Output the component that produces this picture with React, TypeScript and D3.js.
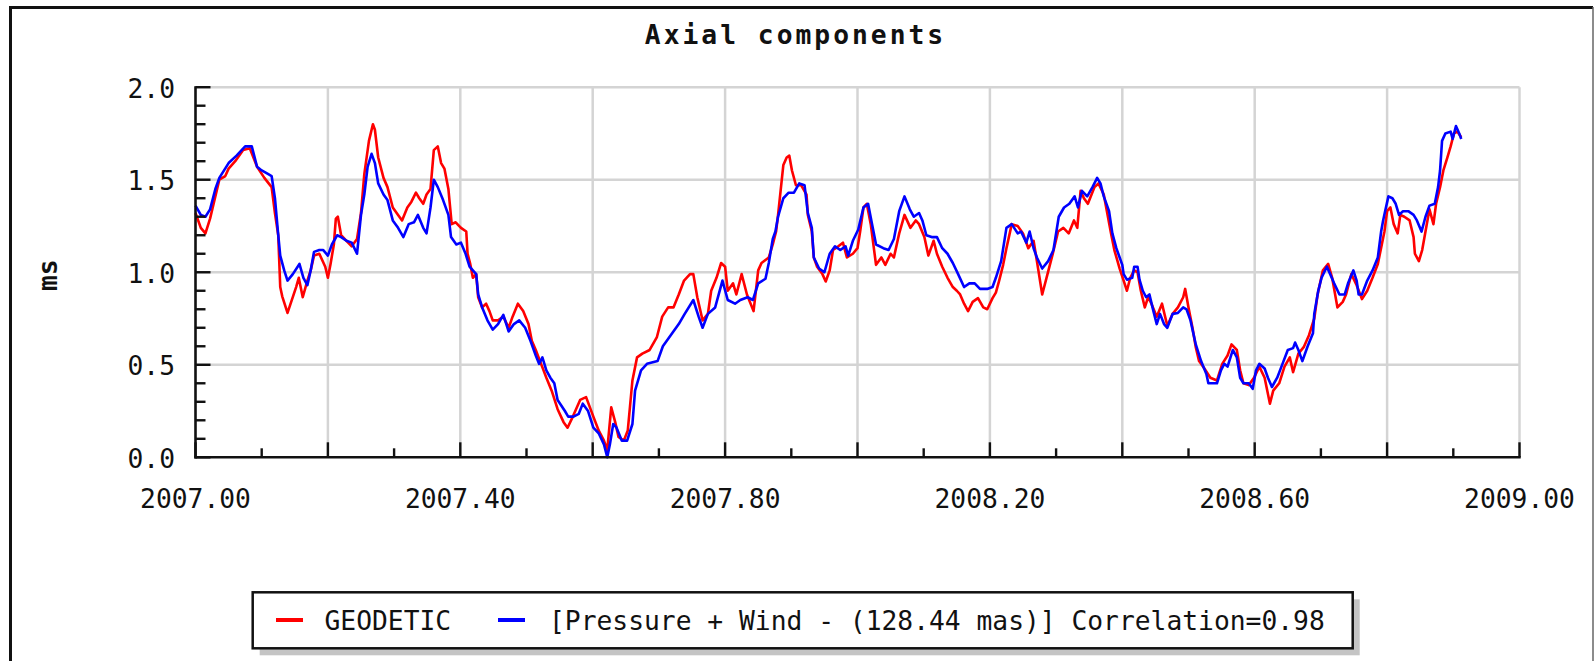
import React from 'react';
import * as d3 from 'd3';

const geoYears = [
  2007.000, 2007.008, 2007.015, 2007.022, 2007.028, 2007.036, 2007.045, 2007.050, 2007.060, 2007.072,
  2007.082, 2007.093, 2007.104, 2007.115, 2007.120, 2007.125, 2007.128, 2007.131, 2007.139, 2007.152,
  2007.156, 2007.162, 2007.169, 2007.174, 2007.179, 2007.187, 2007.196, 2007.200, 2007.204, 2007.209,
  2007.212, 2007.215, 2007.220, 2007.228, 2007.236, 2007.244, 2007.250, 2007.255, 2007.262, 2007.268,
  2007.271, 2007.276, 2007.284, 2007.290, 2007.298, 2007.306, 2007.312, 2007.320, 2007.326, 2007.333,
  2007.338, 2007.344, 2007.349, 2007.355, 2007.360, 2007.366, 2007.371, 2007.376, 2007.382, 2007.387,
  2007.393, 2007.401, 2007.409, 2007.411, 2007.415, 2007.419, 2007.424, 2007.427, 2007.433, 2007.439,
  2007.444, 2007.449, 2007.457, 2007.465, 2007.473, 2007.479, 2007.487, 2007.495, 2007.503, 2007.508,
  2007.514, 2007.522, 2007.530, 2007.538, 2007.547, 2007.556, 2007.562, 2007.570, 2007.581, 2007.590,
  2007.601, 2007.609, 2007.617, 2007.622, 2007.628, 2007.634, 2007.639, 2007.647, 2007.653, 2007.660,
  2007.667, 2007.675, 2007.686, 2007.697, 2007.705, 2007.714, 2007.722, 2007.730, 2007.738, 2007.747,
  2007.752, 2007.758, 2007.766, 2007.774, 2007.779, 2007.787, 2007.794, 2007.800, 2007.804, 2007.812,
  2007.817, 2007.825, 2007.833, 2007.843, 2007.850, 2007.855, 2007.866, 2007.872, 2007.877, 2007.880,
  2007.888, 2007.893, 2007.897, 2007.901, 2007.907, 2007.915, 2007.923, 2007.925, 2007.931, 2007.934,
  2007.939, 2007.947, 2007.952, 2007.958, 2007.963, 2007.971, 2007.978, 2007.984, 2007.993, 2008.000,
  2008.004, 2008.009, 2008.014, 2008.020, 2008.028, 2008.036, 2008.042, 2008.050, 2008.055, 2008.063,
  2008.071, 2008.080, 2008.088, 2008.093, 2008.101, 2008.107, 2008.115, 2008.120, 2008.128, 2008.136,
  2008.144, 2008.150, 2008.155, 2008.161, 2008.167, 2008.174, 2008.182, 2008.190, 2008.196, 2008.204,
  2008.209, 2008.214, 2008.220, 2008.225, 2008.233, 2008.242, 2008.250, 2008.258, 2008.266, 2008.271,
  2008.279, 2008.287, 2008.295, 2008.303, 2008.311, 2008.319, 2008.327, 2008.332, 2008.337, 2008.342,
  2008.348, 2008.358, 2008.364, 2008.372, 2008.383, 2008.388, 2008.396, 2008.402, 2008.407, 2008.412,
  2008.418, 2008.423, 2008.428, 2008.434, 2008.439, 2008.444, 2008.452, 2008.460, 2008.468, 2008.476,
  2008.484, 2008.492, 2008.495, 2008.500, 2008.506, 2008.511, 2008.516, 2008.524, 2008.533, 2008.543,
  2008.551, 2008.559, 2008.565, 2008.573, 2008.578, 2008.583, 2008.591, 2008.599, 2008.607, 2008.615,
  2008.623, 2008.628, 2008.637, 2008.645, 2008.653, 2008.658, 2008.666, 2008.674, 2008.682, 2008.690,
  2008.695, 2008.703, 2008.711, 2008.717, 2008.725, 2008.733, 2008.738, 2008.746, 2008.754, 2008.762,
  2008.770, 2008.778, 2008.786, 2008.792, 2008.796, 2008.800, 2008.805, 2008.810, 2008.816, 2008.820,
  2008.826, 2008.834, 2008.840, 2008.842, 2008.848, 2008.853, 2008.858, 2008.864, 2008.870, 2008.874,
  2008.880, 2008.885, 2008.891, 2008.896, 2008.901, 2008.906, 2008.912,
];
const geoValues = [
  1.32, 1.24, 1.21, 1.29, 1.38, 1.50, 1.52, 1.56, 1.60, 1.66,
  1.67, 1.57, 1.51, 1.46, 1.32, 1.20, 0.92, 0.87, 0.78, 0.92,
  0.97, 0.865, 0.955, 1.01, 1.09, 1.10, 1.03, 0.97, 1.045, 1.15,
  1.29, 1.30, 1.20, 1.17, 1.14, 1.18, 1.32, 1.53, 1.71, 1.80,
  1.77, 1.62, 1.51, 1.46, 1.35, 1.31, 1.28, 1.35, 1.38, 1.43,
  1.40, 1.37, 1.42, 1.45, 1.66, 1.68, 1.59, 1.56, 1.45, 1.26,
  1.27, 1.24, 1.22, 1.10, 1.045, 0.97, 0.99, 0.865, 0.81, 0.83,
  0.79, 0.74, 0.74, 0.76, 0.70, 0.76, 0.83, 0.79, 0.72, 0.63,
  0.58, 0.505, 0.43, 0.36, 0.26, 0.19, 0.16, 0.22, 0.31, 0.325,
  0.22, 0.145, 0.09, 0.04, 0.27, 0.19, 0.11, 0.09, 0.145, 0.415,
  0.54, 0.56, 0.58, 0.65, 0.76, 0.81, 0.81, 0.88, 0.955, 0.99,
  0.99, 0.865, 0.74, 0.775, 0.90, 0.97, 1.05, 1.03, 0.90, 0.94,
  0.88, 0.99, 0.88, 0.79, 1.01, 1.05, 1.08, 1.15, 1.22, 1.31,
  1.58, 1.62, 1.63, 1.55, 1.47, 1.47, 1.42, 1.31, 1.22, 1.08,
  1.03, 0.99, 0.95, 1.01, 1.12, 1.14, 1.16, 1.08, 1.10, 1.13,
  1.22, 1.35, 1.37, 1.26, 1.04, 1.08, 1.04, 1.10, 1.08, 1.21,
  1.31, 1.24, 1.28, 1.26, 1.19, 1.09, 1.17, 1.10, 1.03, 0.97,
  0.92, 0.90, 0.88, 0.83, 0.79, 0.84, 0.86, 0.81, 0.80, 0.86,
  0.89, 0.955, 1.04, 1.13, 1.26, 1.25, 1.21, 1.13, 1.17, 1.06,
  0.88, 0.99, 1.10, 1.22, 1.24, 1.21, 1.28, 1.24, 1.44, 1.40,
  1.37, 1.46, 1.48, 1.42, 1.21, 1.12, 1.02, 0.955, 0.90, 0.97,
  1.01, 1.00, 0.90, 0.81, 0.865, 0.83, 0.76, 0.83, 0.71, 0.775,
  0.81, 0.865, 0.91, 0.81, 0.70, 0.595, 0.52, 0.48, 0.43, 0.415,
  0.505, 0.55, 0.61, 0.58, 0.47, 0.40, 0.39, 0.43, 0.49, 0.43,
  0.29, 0.36, 0.40, 0.49, 0.54, 0.46, 0.56, 0.595, 0.66, 0.75,
  0.88, 1.01, 1.045, 0.97, 0.81, 0.84, 0.88, 0.99, 0.93, 0.855,
  0.90, 0.97, 1.045, 1.15, 1.22, 1.33, 1.35, 1.26, 1.21, 1.31,
  1.30, 1.28, 1.19, 1.10, 1.06, 1.12, 1.22, 1.34, 1.26, 1.37,
  1.46, 1.55, 1.62, 1.68, 1.75, 1.76, 1.73,
];

const pwYears = [
  2007.000, 2007.008, 2007.015, 2007.022, 2007.030, 2007.036, 2007.050, 2007.062, 2007.075, 2007.085,
  2007.093, 2007.100, 2007.110, 2007.115, 2007.120, 2007.125, 2007.128, 2007.134, 2007.139, 2007.147,
  2007.157, 2007.163, 2007.169, 2007.174, 2007.179, 2007.187, 2007.193, 2007.200, 2007.206, 2007.214,
  2007.220, 2007.228, 2007.236, 2007.244, 2007.250, 2007.255, 2007.260, 2007.266, 2007.271, 2007.276,
  2007.284, 2007.290, 2007.298, 2007.306, 2007.314, 2007.322, 2007.330, 2007.336, 2007.344, 2007.349,
  2007.355, 2007.360, 2007.366, 2007.374, 2007.382, 2007.386, 2007.394, 2007.401, 2007.408, 2007.414,
  2007.419, 2007.424, 2007.427, 2007.433, 2007.441, 2007.449, 2007.457, 2007.465, 2007.473, 2007.481,
  2007.489, 2007.498, 2007.506, 2007.514, 2007.519, 2007.524, 2007.530, 2007.536, 2007.542, 2007.547,
  2007.558, 2007.563, 2007.571, 2007.579, 2007.585, 2007.593, 2007.601, 2007.609, 2007.617, 2007.622,
  2007.626, 2007.631, 2007.636, 2007.644, 2007.652, 2007.660, 2007.664, 2007.673, 2007.682, 2007.698,
  2007.706, 2007.720, 2007.730, 2007.739, 2007.752, 2007.760, 2007.766, 2007.774, 2007.785, 2007.796,
  2007.804, 2007.815, 2007.823, 2007.834, 2007.842, 2007.850, 2007.861, 2007.866, 2007.872, 2007.876,
  2007.880, 2007.888, 2007.896, 2007.904, 2007.912, 2007.920, 2007.925, 2007.931, 2007.934, 2007.942,
  2007.950, 2007.958, 2007.966, 2007.974, 2007.982, 2007.986, 2007.993, 2008.001, 2008.009, 2008.016,
  2008.022, 2008.028, 2008.039, 2008.047, 2008.055, 2008.063, 2008.071, 2008.079, 2008.085, 2008.093,
  2008.098, 2008.104, 2008.112, 2008.120, 2008.128, 2008.136, 2008.144, 2008.152, 2008.161, 2008.169,
  2008.177, 2008.185, 2008.196, 2008.204, 2008.209, 2008.217, 2008.225, 2008.233, 2008.242, 2008.247,
  2008.255, 2008.260, 2008.266, 2008.271, 2008.279, 2008.288, 2008.296, 2008.304, 2008.312, 2008.320,
  2008.328, 2008.333, 2008.339, 2008.347, 2008.355, 2008.362, 2008.367, 2008.372, 2008.380, 2008.385,
  2008.391, 2008.396, 2008.400, 2008.402, 2008.407, 2008.415, 2008.418, 2008.423, 2008.426, 2008.431,
  2008.436, 2008.441, 2008.447, 2008.452, 2008.457, 2008.463, 2008.468, 2008.476, 2008.484, 2008.492,
  2008.497, 2008.503, 2008.511, 2008.519, 2008.527, 2008.530, 2008.543, 2008.549, 2008.554, 2008.559,
  2008.567, 2008.573, 2008.578, 2008.583, 2008.591, 2008.597, 2008.602, 2008.607, 2008.615, 2008.620,
  2008.626, 2008.634, 2008.642, 2008.650, 2008.658, 2008.661, 2008.666, 2008.672, 2008.680, 2008.688,
  2008.690, 2008.696, 2008.701, 2008.709, 2008.714, 2008.720, 2008.728, 2008.736, 2008.741, 2008.749,
  2008.754, 2008.757, 2008.762, 2008.770, 2008.778, 2008.786, 2008.791, 2008.794, 2008.797, 2008.802,
  2008.808, 2008.813, 2008.818, 2008.824, 2008.832, 2008.840, 2008.845, 2008.852, 2008.858, 2008.864,
  2008.872, 2008.877, 2008.880, 2008.883, 2008.888, 2008.896, 2008.899, 2008.904, 2008.909, 2008.912,
];
const pwValues = [
  1.36, 1.31, 1.30, 1.34, 1.45, 1.51, 1.59, 1.63, 1.68, 1.68,
  1.57, 1.55, 1.53, 1.52, 1.40, 1.20, 1.09, 1.01, 0.955, 0.99,
  1.045, 0.97, 0.93, 1.01, 1.11, 1.12, 1.12, 1.09, 1.15, 1.20,
  1.19, 1.17, 1.16, 1.10, 1.31, 1.42, 1.57, 1.64, 1.59, 1.48,
  1.42, 1.39, 1.28, 1.24, 1.19, 1.26, 1.27, 1.31, 1.24, 1.21,
  1.35, 1.50, 1.46, 1.39, 1.31, 1.19, 1.15, 1.16, 1.10, 1.03,
  1.01, 0.99, 0.88, 0.81, 0.74, 0.69, 0.72, 0.77, 0.68, 0.72,
  0.74, 0.70, 0.63, 0.55, 0.505, 0.54, 0.47, 0.43, 0.40, 0.31,
  0.25, 0.22, 0.22, 0.235, 0.29, 0.25, 0.16, 0.13, 0.07, 0.00,
  0.07, 0.18, 0.16, 0.09, 0.09, 0.18, 0.36, 0.47, 0.505, 0.52,
  0.60, 0.67, 0.72, 0.775, 0.85, 0.76, 0.70, 0.775, 0.81, 0.955,
  0.85, 0.83, 0.85, 0.865, 0.85, 0.94, 0.965, 1.05, 1.18, 1.22,
  1.30, 1.40, 1.43, 1.43, 1.48, 1.47, 1.32, 1.24, 1.08, 1.02,
  1.00, 1.10, 1.14, 1.12, 1.14, 1.09, 1.17, 1.23, 1.35, 1.37,
  1.26, 1.15, 1.13, 1.12, 1.18, 1.33, 1.41, 1.34, 1.30, 1.32,
  1.28, 1.20, 1.19, 1.19, 1.13, 1.10, 1.05, 0.99, 0.92, 0.94,
  0.94, 0.91, 0.91, 0.92, 0.97, 1.06, 1.24, 1.26, 1.21, 1.22,
  1.16, 1.22, 1.13, 1.08, 1.02, 1.06, 1.12, 1.30, 1.35, 1.37,
  1.41, 1.35, 1.44, 1.41, 1.46, 1.51, 1.48, 1.41, 1.33, 1.21,
  1.13, 1.08, 1.04, 0.99, 0.96, 0.97, 1.03, 1.03, 0.96, 0.90,
  0.865, 0.88, 0.79, 0.72, 0.775, 0.72, 0.70, 0.775, 0.78, 0.81,
  0.80, 0.74, 0.61, 0.52, 0.45, 0.40, 0.40, 0.47, 0.505, 0.49,
  0.58, 0.54, 0.43, 0.40, 0.40, 0.37, 0.47, 0.505, 0.48, 0.43,
  0.38, 0.43, 0.505, 0.58, 0.59, 0.62, 0.58, 0.52, 0.60, 0.67,
  0.775, 0.90, 0.97, 1.03, 0.99, 0.94, 0.88, 0.88, 0.94, 1.01,
  0.955, 0.88, 0.88, 0.955, 1.01, 1.08, 1.22, 1.28, 1.33, 1.41,
  1.40, 1.37, 1.31, 1.33, 1.33, 1.31, 1.28, 1.22, 1.30, 1.36,
  1.37, 1.46, 1.55, 1.71, 1.75, 1.76, 1.72, 1.79, 1.75, 1.72,
];

const xTickValues = [2007.0, 2007.4, 2007.8, 2008.2, 2008.6, 2009.0];
const xTickLabels = ['2007.00', '2007.40', '2007.80', '2008.20', '2008.60', '2009.00'];
const yTickValues = [0, 0.5, 1.0, 1.5, 2.0];
const yTickLabels = ['0.0', '0.5', '1.0', '1.5', '2.0'];
const seriesNames = ['GEODETIC', '[Pressure + Wind - (128.44 mas)] Correlation=0.98'];
const seriesColors = ['#ff0000', '#0000ff'];
const titleText = 'Axial components';
const yAxisTitle = 'ms';

const FONT = "'DejaVu Sans Mono', monospace";

export default function App() {
  const W = 1595;
  const H = 661;
  const x = d3.scaleLinear().domain([2007, 2009]).range([195.5, 1519.5]);
  const y = d3.scaleLinear().domain([0, 2]).range([457.3, 87.2]);

  const line = d3
    .line<[number, number]>()
    .x((d) => x(d[0]))
    .y((d) => y(d[1]));

  const geo: [number, number][] = geoYears.map((t, i) => [t, geoValues[i]]);
  const pw: [number, number][] = pwYears.map((t, i) => [t, pwValues[i]]);

  const xMinor = d3.range(0, 21).map((i) => ({ v: 2007 + i * 0.1, major: i % 2 === 0 }));
  const yMinor = d3.range(0, 21).map((i) => ({ v: i * 0.1, major: i % 5 === 0 }));
  const xGrid = d3.range(1, 11).map((i) => 2007 + i * 0.2);
  const yGrid = [0.5, 1.0, 1.5, 2.0];

  const [x0, x1] = x.range();
  const yb = y(0);
  const yt = y(2);

  const legX = 252.7;
  const legY = 592.3;
  const legW = 1100;
  const legH = 56;

  return (
    <svg
      width={W}
      height={H}
      style={{ position: 'absolute', left: 0, top: 0, background: '#fff' }}
      fontFamily={FONT}
    >
      <rect x={0} y={0} width={W} height={H} fill="#fff" />
      {/* outer frame */}
      <path d={`M10.5,${H + 5} V7.5 H1593`} fill="none" stroke="#111" strokeWidth={3} />
      <line x1={1593} y1={7} x2={1593} y2={H + 5} stroke="#666" strokeWidth={1.5} />

      {/* title */}
      <text x={795.5} y={44} textAnchor="middle" fontSize={26.3} fontWeight="bold" letterSpacing={3} fill="#111">
        {titleText}
      </text>

      {/* y title */}
      <text
        transform={`translate(57,${(yb + yt) / 2 + 3}) rotate(-90)`}
        textAnchor="middle"
        fontSize={26.3}
        fontWeight="bold"
        fill="#111"
      >
        {yAxisTitle}
      </text>

      {/* grid */}
      {xGrid.map((v, i) => (
        <line key={'gx' + i} x1={x(v)} x2={x(v)} y1={yt} y2={yb} stroke="#d4d4d4" strokeWidth={2.5} />
      ))}
      {yGrid.map((v, i) => (
        <line key={'gy' + i} x1={x0} x2={x1} y1={y(v)} y2={y(v)} stroke="#d4d4d4" strokeWidth={2.5} />
      ))}

      {/* data */}
      <path d={line(geo) || ''} fill="none" stroke={seriesColors[0]} strokeWidth={2.6} strokeLinejoin="round" />
      <path d={line(pw) || ''} fill="none" stroke={seriesColors[1]} strokeWidth={2.6} strokeLinejoin="round" />

      {/* axes */}
      <line x1={x0} x2={x0} y1={yt - 1} y2={yb + 1.2} stroke="#111" strokeWidth={2.6} />
      <line x1={x0 - 1.2} x2={x1 + 1.2} y1={yb} y2={yb} stroke="#111" strokeWidth={2.6} />
      {yMinor.map((t, i) => (
        <line
          key={'yt' + i}
          x1={x0}
          x2={x0 + (t.major ? 15 : 10)}
          y1={y(t.v)}
          y2={y(t.v)}
          stroke="#111"
          strokeWidth={2.4}
        />
      ))}
      {xMinor.map((t, i) => (
        <line
          key={'xt' + i}
          x1={x(t.v)}
          x2={x(t.v)}
          y1={yb}
          y2={yb - (t.major ? 15 : 9)}
          stroke="#111"
          strokeWidth={2.4}
        />
      ))}

      {/* tick labels */}
      {xTickValues.map((v, i) => (
        <text key={'xl' + i} x={x(v)} y={508} textAnchor="middle" fontSize={26.3} fill="#111">
          {xTickLabels[i]}
        </text>
      ))}
      {yTickValues.map((v, i) => (
        <text key={'yl' + i} x={175} y={y(v) + 10.5} textAnchor="end" fontSize={26.3} fill="#111">
          {yTickLabels[i]}
        </text>
      ))}

      {/* legend */}
      <rect x={legX + 7} y={legY + 7} width={legW} height={legH} fill="#c4c4c4" />
      <rect x={legX} y={legY} width={legW} height={legH} fill="#fff" stroke="#111" strokeWidth={2.5} />
      <line x1={276} x2={303} y1={620} y2={620} stroke={seriesColors[0]} strokeWidth={4} />
      <text x={324.5} y={630} fontSize={26.3} fill="#111">
        {seriesNames[0]}
      </text>
      <line x1={498} x2={525} y1={620} y2={620} stroke={seriesColors[1]} strokeWidth={4} />
      <text x={549} y={630} fontSize={26.3} fill="#111">
        {seriesNames[1]}
      </text>
    </svg>
  );
}
